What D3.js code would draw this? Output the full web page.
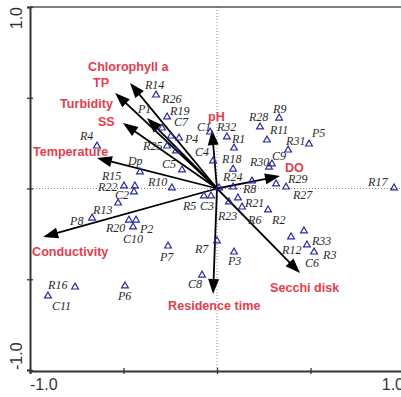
<!DOCTYPE html>
<html>
<head>
<meta charset="utf-8">
<script src="https://cdn.jsdelivr.net/npm/d3@7"></script>
<style>
  body { margin: 0; background: #fff; }
</style>
</head>
<body>
<svg id="chart" width="401" height="397"></svg>
<script>
// sample scores on axis 1 / axis 2
const siteNames = ['R14', 'R19', 'P1', 'C7', 'P4', 'R25', 'R26', 'C5', 'Dp',
    'R9', 'R28', 'R11', 'R31', 'P5', 'R30', 'C9', 'R29', 'R27', 'R17',
    'R32', 'R1', 'C1', 'C4', 'R18', 'R24', 'R8', '', 'R21', 'R6', 'R23', 'R2',
    'R5', 'C3', 'R7', 'P7', 'P3', 'C8', 'R12', 'R33', 'C6', 'R3',
    'R4', 'R22', 'R15', 'C2', 'R10', 'R13', 'P8', 'R20', 'P2', 'C10',
    'R16', 'C11', 'P6'];
const siteX = [-0.326, -0.267, -0.294, -0.246, -0.203, -0.267, -0.219, -0.187, -0.412,
    0.332, 0.230, 0.267, 0.380, 0.492, 0.278, 0.294, 0.316, 0.369, 0.947,
    0.053, 0.091, -0.037, -0.021, 0.086, 0.086, 0.187, 0.011, 0.112, 0.134, 0.064, 0.273,
    -0.070, -0.032, 0.000, -0.262, 0.091, -0.080, 0.396, 0.465, 0.481, 0.519,
    -0.642, -0.497, -0.439, -0.444, -0.241, -0.529, -0.668, -0.471, -0.433, -0.449,
    -0.759, -0.904, -0.492];
const siteY = [0.515, 0.394, 0.333, 0.289, 0.278, 0.234, 0.207, 0.102, 0.091,
    0.388, 0.339, 0.267, 0.212, 0.245, 0.118, 0.135, 0.025, 0.008, 0.003,
    0.284, 0.223, 0.311, 0.152, 0.107, 0.008, 0.041, 0.003, -0.052, -0.102, -0.074, -0.118,
    -0.041, -0.041, -0.289, -0.317, -0.350, -0.477, -0.267, -0.234, -0.311, -0.350,
    0.234, 0.014, 0.014, -0.019, 0.003, -0.080, -0.163, -0.174, -0.174, -0.212,
    -0.543, -0.592, -0.537];

// environmental variables (arrow tips)
const varNames = ['Chlorophyll a', 'TP', 'Turbidity', 'SS', 'Temperature',
    'Conductivity', 'pH', 'DO', 'Secchi disk', 'Residence time'];
const varX = [-0.465, -0.545, -0.374, -0.503, -0.642, -0.930, -0.027, 0.337, 0.444, -0.021];
const varY = [0.581, 0.526, 0.388, 0.361, 0.168, -0.267, 0.322, 0.069, -0.466, -0.581];

const tickValues = [-1, -0.5, 0, 0.5, 1];
const tickLabels = ['-1.0', '', '', '', '1.0'];

// label placement, px from the mark (left edge, baseline)
const siteLabelOffset = {
    R14: [-11, -6], R19: [3, -2], P1: [-24, -15], C7: [3, -10], P4: [6, 5],
    R25: [-24, 4], R26: [-14, -48], C5: [-20, -2], Dp: [-12, -7],
    R9: [-6, -5], R28: [-11, -6], R11: [3, -6], R31: [-2, -5], P5: [3, -7],
    R30: [-19, -1], C9: [0, -4], R29: [12, -1], R27: [7, 12], R17: [-26, -2],
    R32: [-10, -6], R1: [-2, -5], C1: [-13, -1], C4: [-18, -5], R18: [-11, -6],
    R24: [-10, -6], R8: [-9, 12], R21: [7, 9], R6: [6, 17], R23: [-11, 18], R2: [4, 14],
    R5: [-21, 14], C3: [-11, 14], R7: [-22, 12], P7: [-8, 15], P3: [-6, 13], C8: [-14, 13],
    R12: [-9, 17], R33: [8, 14], C6: [-2, 22], R3: [9, 7],
    R4: [-17, -6], R22: [-26, 5], R15: [-33, -6], C2: [-19, 7], R10: [-24, -2],
    R13: [-25, 11], P8: [-22, 7], R20: [-23, 12], P2: [4, 13], C10: [-10, 16],
    R16: [-27, 2], C11: [4, 14], P6: [-7, 14]
};
const varLabelOffset = {
    'Chlorophyll a': [-42, -12], 'TP': [-22, -6], 'Turbidity': [-87, -10],
    'SS': [-25, 3], 'Temperature': [-64, -2], 'Conductivity': [-11, 19],
    'pH': [-4, -9], 'DO': [5, -4], 'Secchi disk': [-30, 19], 'Residence time': [-45, 16]
};

const svg = d3.select('#chart');

const x = d3.scaleLinear().domain([-1, 1]).range([30, 404]);
const y = d3.scaleLinear().domain([-1, 1]).range([370, 7]);

// reference lines through the origin
svg.append('line')
    .attr('x1', x(-1)).attr('x2', x(1))
    .attr('y1', y(0)).attr('y2', y(0))
    .attr('stroke', '#888').attr('stroke-width', 1)
    .attr('stroke-dasharray', '1,2');
svg.append('line')
    .attr('x1', x(0)).attr('x2', x(0))
    .attr('y1', y(1)).attr('y2', y(-1))
    .attr('stroke', '#888').attr('stroke-width', 1)
    .attr('stroke-dasharray', '1,2');

// top border
svg.append('line')
    .attr('x1', x(-1)).attr('x2', x(1))
    .attr('y1', y(1)).attr('y2', y(1))
    .attr('stroke', '#555').attr('stroke-width', 1.5);

// axes
const xAxis = svg.append('g')
    .attr('transform', 'translate(0,' + (y(-1) + 1) + ')')
    .call(d3.axisBottom(x).tickValues(tickValues).tickSize(3).tickFormat(''));
const yAxis = svg.append('g')
    .attr('transform', 'translate(' + x(-1) + ',0)')
    .call(d3.axisLeft(y).tickValues(tickValues).tickSize(3).tickFormat(''));

[xAxis, yAxis].forEach(g => {
    g.select('.domain').attr('stroke', '#333').attr('stroke-width', 2);
    g.selectAll('.tick line').attr('stroke', '#333').attr('stroke-width', 1.3);
});
xAxis.selectAll('.tick line').attr('y1', -3).attr('y2', 3);
yAxis.selectAll('.tick line').attr('x1', -3).attr('x2', 3);

// tick labels, only the ends
const axisFont = '"Liberation Sans", Arial, sans-serif';
tickValues.forEach((v, i) => {
    if (!tickLabels[i]) return;
    svg.append('text')
        .attr('x', x(v))
        .attr('y', 390)
        .attr('text-anchor', v < 0 ? 'start' : 'end')
        .style('font-family', axisFont)
        .style('font-size', '16px')
        .attr('fill', '#333')
        .text(tickLabels[i]);
    svg.append('text')
        .attr('transform', 'translate(22,' + y(v) + ') rotate(-90)')
        .attr('text-anchor', v < 0 ? 'start' : 'end')
        .style('font-family', axisFont)
        .style('font-size', '16px')
        .attr('fill', '#333')
        .text(tickLabels[i]);
});

// arrows
const headLen = 15, headW = 5.5;
const arrows = svg.append('g');
varNames.forEach((name, i) => {
    const x0 = x(0), y0 = y(0);
    const x1 = x(varX[i]), y1 = y(varY[i]);
    const len = Math.hypot(x1 - x0, y1 - y0);
    const ux = (x1 - x0) / len, uy = (y1 - y0) / len;
    const bx = x1 - ux * headLen, by = y1 - uy * headLen;

    arrows.append('line')
        .attr('x1', x0).attr('y1', y0)
        .attr('x2', bx + ux * 2).attr('y2', by + uy * 2)
        .attr('stroke', '#000').attr('stroke-width', 1.8);

    const path = d3.path();
    path.moveTo(x1, y1);
    path.lineTo(bx - uy * headW, by + ux * headW);
    path.lineTo(bx + uy * headW, by - ux * headW);
    path.closePath();
    arrows.append('path').attr('d', path.toString()).attr('fill', '#000');

    const off = varLabelOffset[name];
    svg.append('text')
        .attr('x', x1 + off[0])
        .attr('y', y1 + off[1])
        .style('font-family', axisFont)
        .style('font-weight', 'bold')
        .style('font-size', '12.6px')
        .attr('fill', '#e2404e')
        .text(name);
});

// sample points
const tri = d3.symbol().type(d3.symbolTriangle).size(20);
const sites = svg.append('g');
siteNames.forEach((name, i) => {
    const px = x(siteX[i]), py = y(siteY[i]);
    sites.append('path')
        .attr('d', tri)
        .attr('transform', 'translate(' + px + ',' + py + ')')
        .attr('fill', 'none')
        .attr('stroke', '#2b2b9c')
        .attr('stroke-width', 1.2);

    if (!name) return;
    const off = siteLabelOffset[name] || [4, -4];
    sites.append('text')
        .attr('x', px + off[0])
        .attr('y', py + off[1])
        .style('font-family', '"Liberation Serif", "Times New Roman", serif')
        .style('font-style', 'italic')
        .style('font-size', '12px')
        .attr('fill', '#2a2a2a')
        .text(name);
});
</script>
</body>
</html>
